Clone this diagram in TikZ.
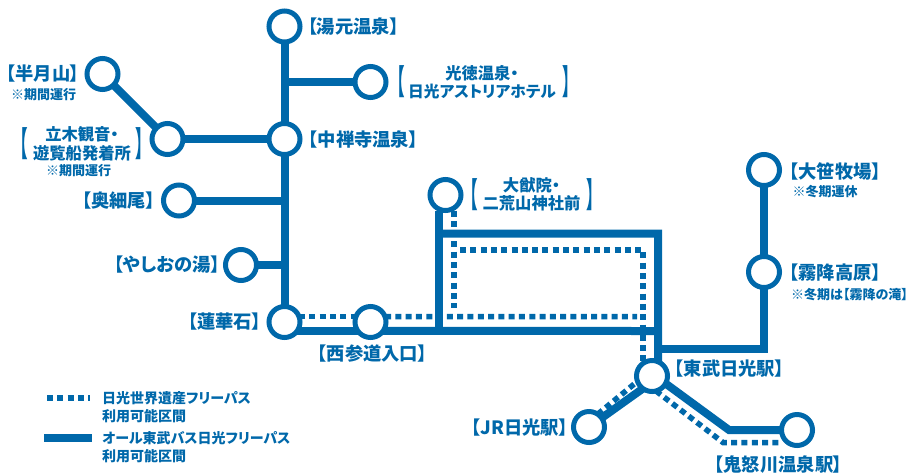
\documentclass[tikz,border=0pt]{standalone}
\usepackage{fontspec}
\usepackage{graphicx}
\setmainfont{Noto Sans CJK JP}[RawFeature=+palt]
\definecolor{line}{HTML}{0068AA}
\tikzset{%
    sta/.style={circle, draw=line, fill=white, line width=5pt, minimum size=31pt, inner sep=0pt, outer sep=0pt},
    pri/.style={draw=line, line width=8pt},
    sec/.style={draw=line, line width=5.5pt, dash pattern=on 6pt off 4.3pt},
    lab/.style={text=line, inner sep=0pt, font=\bfseries\fontsize{18.3}{18}\selectfont},
    labb/.style={text=line, inner sep=0pt, align=center, font=\bfseries\fontsize{16.3}{18.5}\selectfont},
    note/.style={text=line, inner sep=0pt, font=\bfseries\fontsize{13}{13}\selectfont},
    leg/.style={text=line, inner sep=0pt, anchor=west, align=left, font=\bfseries\fontsize{14}{18}\selectfont},
}
\newcommand{\tallL}{\scalebox{0.85}[1.85]{【}}
\newcommand{\tallR}{\scalebox{0.85}[1.85]{】}}
\begin{document}
\begin{tikzpicture}[x=1pt,y=-1pt]
    \useasboundingbox (0,0) rectangle (909,475);
    % stations
    \node [sta] (yumoto) at (284.5,26.5) {};
    \node [sta] (mitoku) at (370.5,82) {};
    \node [sta] (hangetsu) at (102.5,74) {};
    \node [sta] (tachiki) at (167.5,139) {};
    \node [sta] (chuzenji) at (284.5,139) {};
    \node [sta] (okuhoso) at (179,200.5) {};
    \node [sta] (yashio) at (241,265) {};
    \node [sta] (renge) at (284.5,322) {};
    \node [sta] (nishi) at (370.5,322) {};
    \node [sta] (daiyu) at (445.5,195) {};
    \node [sta] (nikko) at (652,376) {};
    \node [sta] (jr) at (589,427) {};
    \node [sta] (kinu) at (797,430) {};
    \node [sta] (osasa) at (764,170) {};
    \node [sta] (kiri) at (764,272) {};
    % bends
    \coordinate (rectNW) at (439,233.5);
    \coordinate (rectNE) at (658,233.5);
    \coordinate (rectSW) at (439,331);
    \coordinate (rectSE) at (658,331);
    \coordinate (kiriC) at (764,349);
    \coordinate (kinuC) at (729,430);
    \coordinate (dotA) at (454,308);
    \coordinate (dotB) at (460,250);
    \coordinate (dotC) at (643,250);
    \coordinate (dotD) at (637,316.7);
    \coordinate (dotE) at (723,442.5);
    \coordinate (dotF) at (781,442.5);
    \coordinate (dotG) at (454,250);
    % all-line pass
    \draw [pri] (yumoto) -- (chuzenji);
    \draw [pri] (chuzenji) -- (renge);
    \draw [pri] (yumoto |- mitoku) -- (mitoku);
    \draw [pri] (hangetsu) -- (tachiki);
    \draw [pri] (tachiki) -- (chuzenji);
    \draw [pri] (okuhoso) -- (okuhoso -| chuzenji);
    \draw [pri] (yashio) -- (yashio -| chuzenji);
    \draw [pri] (renge.-35) -- (nishi.215);
    \draw [pri] (nishi.-35) -- (rectSE);
    \draw [pri] (rectNW) -- (rectNE) -- (nikko.67);
    \draw [pri] (rectSW |- daiyu.south) -- (rectSW);
    \draw [pri] (rectNE |- kiriC) -- (kiriC) -- (kiri);
    \draw [pri] (kiri) -- (osasa);
    \draw [pri] (jr) -- (nikko.234);
    \draw [pri] (nikko.-29) -- (kinuC) -- (kinu);
    % world heritage pass
    \draw [sec] (renge.20) -- (nishi.160);
    \draw [sec] (nishi.20) -- (dotD);
    \draw [sec] (dotG |- daiyu.south) -- (dotA);
    \draw [sec] (dotB) -- (dotC) -- (dotC |- nikko.north);
    \draw [sec] (jr.56) -- (nikko.200);
    \draw [sec] (nikko.-75) -- (dotE) -- (dotF);
    % labels
    \node [lab] (yumotoL) at (353.5,26) {【湯元温泉】};
    \node [lab] (chuzenjiL) at (363.5,139) {【中禅寺温泉】};
    \node [lab] (hangetsuL) at (43,74) {【半月山】};
    \node [note] (hangetsuN) at (43.5,95) {※期間運行};
    \node [lab] (okuhosoL) at (118.5,201) {【奥細尾】};
    \node [lab] (yashioL) at (167,265) {【やしおの湯】};
    \node [lab] (rengeL) at (224.5,322) {【蓮華石】};
    \node [lab] (nishiL) at (372.5,354) {【西参道入口】};
    \node [lab] (nikkoL) at (729.5,369) {【東武日光駅】};
    \node [lab] (jrL) at (520,428) {【JR日光駅】};
    \node [lab] (kinuL) at (778.5,465) {【鬼怒川温泉駅】};
    \node [lab] (osasaL) at (835,171) {【大笹牧場】};
    \node [note] (osasaN) at (825,192) {※冬期運休};
    \node [lab] (kiriL) at (835,273) {【霧降高原】};
    \node [note] (kiriN) at (849.5,295) {※冬期は【霧降の滝】};
    % labels on two lines
    \node [labb] (mitokuL) at (482,82) {光徳温泉・\\{\fontsize{15.7}{18.5}\selectfont 日光アストリアホテル}};
    \node [lab] (mitokuA) at (401,82) {\tallL};
    \node [lab] (mitokuB) at (567,82) {\tallR};
    \node [labb] (tachikiL) at (82,144) {立木観音・\\遊覧船発着所};
    \node [lab] (tachikiA) at (24,144) {\tallL};
    \node [lab] (tachikiB) at (140,144) {\tallR};
    \node [note] (tachikiN) at (78.5,171) {※期間運行};
    \node [labb] (daiyuL) at (531.5,194.5) {大猷院・\\二荒山神社前};
    \node [lab] (daiyuA) at (474,194.5) {\tallL};
    \node [lab] (daiyuB) at (591,194.5) {\tallR};
    % legend
    \coordinate (legA) at (47,398);
    \coordinate (legB) at (90,398);
    \coordinate (legC) at (44,438);
    \coordinate (legD) at (92,438);
    \draw [sec] (legA) -- (legB);
    \draw [pri] (legC) -- (legD);
    \node [leg] (legE) at (102,407) {日光世界遺産フリーパス\\利用可能区間};
    \node [leg] (legF) at (102,447) {オール東武バス日光フリーパス\\利用可能区間};
\end{tikzpicture}
\end{document}
